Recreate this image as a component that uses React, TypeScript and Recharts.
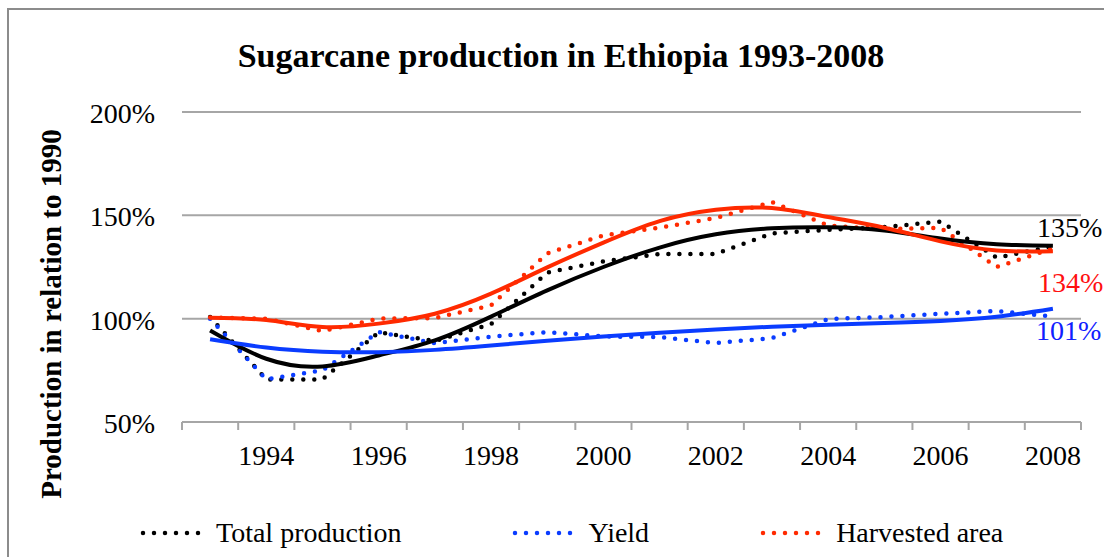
import { LineChart, Line, XAxis, YAxis, CartesianGrid, Legend } from "recharts";

// Sugarcane in Ethiopia, index relative to 1990 (%)
const years = [
  1993, 1994, 1995, 1996, 1997, 1998, 1999, 2000, 2001, 2002, 2003, 2004, 2005,
  2006, 2007, 2008,
];
const totalProduction = [
  100.8, 70.6, 70.6, 93.4, 89.2, 97.4, 122.3, 127.7, 131.3, 131.3, 141.3, 143,
  144.3, 147, 129.5, 135,
];
const yieldIndex = [
  100, 70.6, 75, 93.5, 88.1, 91.3, 93.5, 91.4, 91.1, 88.2, 90.6, 99.8, 100.8,
  102.4, 103.7, 101,
];
const harvestedArea = [
  100.6, 100, 94, 100, 100.3, 106.4, 131.6, 140.3, 144, 148.7, 156.4, 145,
  143.3, 144, 125, 134,
];

const productionTrend = [
  94.3, 80.6, 76.9, 82.2, 89.5, 101, 113.7, 125, 134.4, 140.8, 143.7, 144.2,
  142.7, 138.8, 136, 135.3,
];
const yieldTrend = [
  90, 86, 84, 83.8, 84.9, 87, 89.3, 91.4, 93.2, 94.8, 96.1, 97.1, 97.9, 98.9,
  100.9, 104.8,
];
const areaTrend = [
  100.5, 99.3, 96, 97.6, 102.4, 112.1, 124.8, 136.8, 147.2, 152.7, 153.5,
  149.2, 144, 137.4, 133, 132.6,
];

const yTicks = [50, 100, 150, 200];
const labelYears = [1994, 1996, 1998, 2000, 2002, 2004, 2006, 2008];

const data = years.map((year, i) => ({
  year,
  production: totalProduction[i],
  yield: yieldIndex[i],
  area: harvestedArea[i],
  productionTrend: productionTrend[i],
  yieldTrend: yieldTrend[i],
  areaTrend: areaTrend[i],
}));

// tick marks sit between the years, labels on every second year
const boundaries = [...years.map((y) => y - 0.5), years[years.length - 1] + 0.5];
const xTicks = [...boundaries, ...labelYears].sort((a, b) => a - b);

const FONT = '"Liberation Serif", "Times New Roman", serif';
const GREY = "#a6a6a6";
const BLACK = "#000000";
const BLUE = "#0a3cff";
const RED = "#ff2a00";
const DOTS = "0 11";

const legendItems = [
  { name: "Total production", color: BLACK },
  { name: "Yield", color: BLUE },
  { name: "Harvested area", color: RED },
];

function YearTick({ x, y, payload }: any) {
  const v = payload.value;
  if (!Number.isInteger(v)) {
    return <line x1={x} x2={x} y1={y} y2={y + 8} stroke={GREY} strokeWidth={2} />;
  }
  return (
    <text x={x} y={y + 43} textAnchor="middle" fontSize={28} fontFamily={FONT} fill="#000">
      {v}
    </text>
  );
}

function PercentTick({ x, y, payload }: any) {
  return (
    <text x={x} y={y + 11} textAnchor="end" fontSize={28} fontFamily={FONT} fill="#000">
      {payload.value}%
    </text>
  );
}

const endLabel = (color: string, dx: number, dy: number) => (props: any) => {
  const { x, y, index, value } = props;
  if (index !== years.length - 1) return <g />;
  return (
    <text x={x + dx} y={y + dy} fill={color} fontSize={28} fontFamily={FONT}>
      {value}%
    </text>
  );
};

function DottedLegend() {
  return (
    <div style={{ display: "flex", alignItems: "center", height: 36, paddingLeft: 140, gap: 111 }}>
      {legendItems.map((item) => (
        <div key={item.name} style={{ display: "flex", alignItems: "center", flexShrink: 0 }}>
          <svg width={72} height={10} style={{ flexShrink: 0 }}>
            <line
              x1={3}
              x2={69}
              y1={5}
              y2={5}
              stroke={item.color}
              strokeWidth={4.5}
              strokeLinecap="round"
              strokeDasharray={DOTS}
            />
          </svg>
          <span
            style={{
              marginLeft: 4,
              fontSize: 28,
              lineHeight: "28px",
              fontFamily: FONT,
              color: "#000",
              whiteSpace: "nowrap",
            }}
          >
            {item.name}
          </span>
        </div>
      ))}
    </div>
  );
}

export default function App() {
  return (
    <div
      style={{
        position: "fixed",
        left: 0,
        top: 0,
        width: 1104,
        height: 557,
        overflow: "hidden",
        background: "#fff",
        fontFamily: FONT,
      }}
    >
      <div
        style={{
          position: "absolute",
          left: 7,
          top: 8,
          width: 1200,
          height: 700,
          borderLeft: "2px solid #8c8c8c",
          borderTop: "2px solid #8c8c8c",
        }}
      />
      <div style={{ position: "absolute", left: 0, top: 0 }}>
        <LineChart
          width={1104}
          height={557}
          data={data}
          margin={{ top: 112, right: 23, bottom: 75, left: 0 }}
          style={{ fontFamily: FONT }}
        >
          <CartesianGrid vertical={false} stroke={GREY} strokeWidth={2} />
          <XAxis
            dataKey="year"
            type="number"
            domain={[1992.5, 2008.5]}
            ticks={xTicks}
            interval={0}
            height={60}
            tickSize={0}
            tickMargin={0}
            tickLine={false}
            axisLine={{ stroke: GREY, strokeWidth: 2 }}
            tick={<YearTick />}
          />
          <YAxis
            domain={[50, 200]}
            ticks={yTicks}
            width={182}
            tickSize={0}
            tickMargin={27}
            axisLine={false}
            tickLine={false}
            tick={<PercentTick />}
          />
          <Legend
            layout="horizontal"
            verticalAlign="middle"
            align="center"
            wrapperStyle={{ top: 515, left: 0, width: 1104 }}
            content={<DottedLegend />}
          />

          <Line
            dataKey="production"
            name="Total production"
            stroke={BLACK}
            strokeWidth={4.5}
            strokeLinecap="round"
            strokeDasharray={DOTS}
            dot={false}
            activeDot={false}
            isAnimationActive={false}
            label={endLabel(BLACK, -16, -9)}
          />
          <Line
            dataKey="yield"
            name="Yield"
            stroke={BLUE}
            strokeWidth={4.5}
            strokeLinecap="round"
            strokeDasharray={DOTS}
            dot={false}
            activeDot={false}
            isAnimationActive={false}
            label={endLabel("#1020ff", -17, 23)}
          />
          <Line
            dataKey="area"
            name="Harvested area"
            stroke={RED}
            strokeWidth={4.5}
            strokeLinecap="round"
            strokeDasharray={DOTS}
            dot={false}
            activeDot={false}
            isAnimationActive={false}
            label={endLabel("#ff1010", -15, 44)}
          />

          <Line
            dataKey="productionTrend"
            type="natural"
            stroke={BLACK}
            strokeWidth={4}
            dot={false}
            activeDot={false}
            legendType="none"
            isAnimationActive={false}
          />
          <Line
            dataKey="yieldTrend"
            type="natural"
            stroke={BLUE}
            strokeWidth={4}
            dot={false}
            activeDot={false}
            legendType="none"
            isAnimationActive={false}
          />
          <Line
            dataKey="areaTrend"
            type="natural"
            stroke={RED}
            strokeWidth={4}
            dot={false}
            activeDot={false}
            legendType="none"
            isAnimationActive={false}
          />
        </LineChart>
      </div>
      <svg
        width={1104}
        height={557}
        style={{ position: "absolute", left: 0, top: 0, pointerEvents: "none" }}
      >
        <text x={561} y={67} textAnchor="middle" fontSize={34} fontWeight="bold" fontFamily={FONT} fill="#000">
          Sugarcane production in Ethiopia 1993-2008
        </text>
        <text
          transform="translate(61, 314) rotate(-90)"
          textAnchor="middle"
          fontSize={29}
          fontWeight="bold"
          fontFamily={FONT}
          fill="#000"
        >
          Production in relation to 1990
        </text>
      </svg>
    </div>
  );
}
